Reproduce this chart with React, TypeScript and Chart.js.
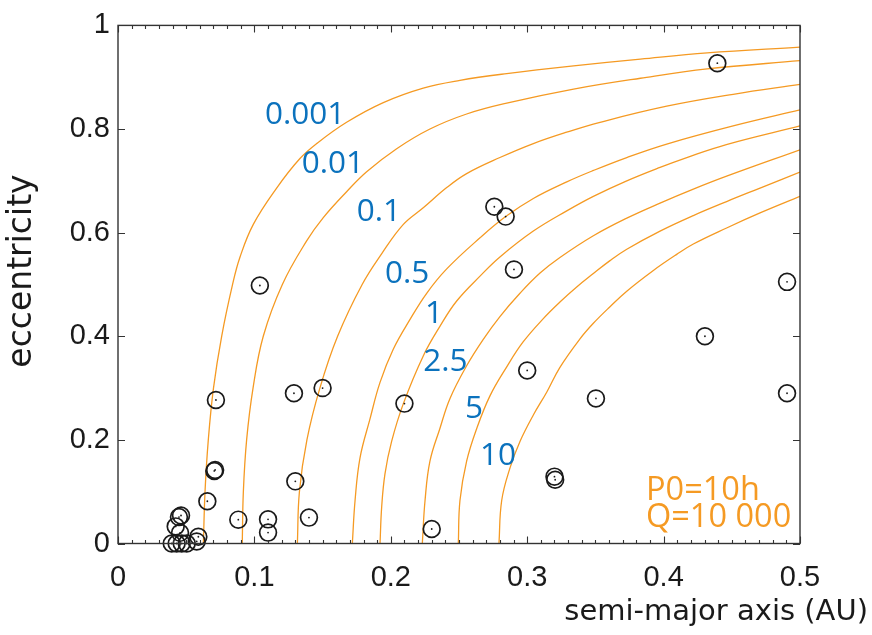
import { useEffect, useRef } from "react";
import { Chart, registerables } from "chart.js";

Chart.register(...registerables);

// ---- axis ranges / ticks ----
const X_MIN = 0;
const X_MAX = 0.5;
const Y_MIN = 0;
const Y_MAX = 1;
const X_STEP = 0.1;
const Y_STEP = 0.2;
const X_MINOR_STEP = 0.01;

// ---- planets: semi-major axis (AU) and eccentricity ----
const planetA = [
  0.0718, 0.129, 0.15, 0.21, 0.0706, 0.0712, 0.13, 0.0655, 0.0462, 0.0447,
  0.0423, 0.0455, 0.0394, 0.043, 0.0467, 0.0504, 0.0577, 0.0589, 0.0882, 0.11,
  0.11, 0.14, 0.23, 0.104, 0.4394, 0.2759, 0.2842, 0.2903, 0.4905, 0.4303,
  0.3, 0.3504, 0.4905, 0.32, 0.3205,
];
const planetE = [
  0.277, 0.29, 0.3, 0.27, 0.14, 0.142, 0.12, 0.0815, 0.054, 0.051,
  0.033, 0.0206, 0.0, 0.0, 0.0, 0.0, 0.004, 0.013, 0.046, 0.0466,
  0.021, 0.05, 0.028, 0.498, 0.927, 0.65, 0.631, 0.529, 0.505, 0.4,
  0.334, 0.28, 0.29, 0.129, 0.123,
];

// ---- iso-time curves (labels in Gyr) ----
const curveLabels = ["0.001", "0.01", "0.1", "0.5", "1", "2.5", "5", "10"];

const c0001A = [0.0626, 0.0638, 0.0662, 0.07, 0.076, 0.084, 0.0894, 0.0992, 0.1163, 0.1334, 0.1457, 0.1676, 0.1945, 0.2238, 0.2507, 0.285, 0.334, 0.383, 0.432, 0.5];
const c0001E = [0, 0.1, 0.2, 0.3, 0.4, 0.5, 0.5525, 0.616, 0.686, 0.743, 0.772, 0.813, 0.851, 0.879, 0.894, 0.907, 0.922, 0.935, 0.947, 0.958];

const c001A = [0.0911, 0.0919, 0.0943, 0.099, 0.1065, 0.1205, 0.1383, 0.1505, 0.1676, 0.1823, 0.2043, 0.2287, 0.2556, 0.285, 0.334, 0.383, 0.432, 0.5];
const c001E = [0, 0.1, 0.2, 0.3, 0.4, 0.5, 0.584, 0.629, 0.679, 0.7175, 0.762, 0.8, 0.829, 0.85, 0.877, 0.898, 0.916, 0.932];

const c01A = [0.1315, 0.133, 0.1385, 0.148, 0.161, 0.179, 0.1935, 0.2092, 0.2238, 0.241, 0.2556, 0.28, 0.3045, 0.329, 0.3534, 0.4023, 0.451, 0.5];
const c01E = [0, 0.1, 0.2, 0.3, 0.4, 0.5, 0.56, 0.616, 0.648, 0.687, 0.714, 0.745, 0.772, 0.794, 0.813, 0.844, 0.867, 0.886];

const c05A = [0.1718, 0.1738, 0.1774, 0.1848, 0.1921, 0.2018, 0.214, 0.2263, 0.241, 0.2654, 0.2842, 0.3045, 0.329, 0.3485, 0.373, 0.4023, 0.451, 0.5];
const c05E = [0, 0.083, 0.165, 0.241, 0.311, 0.375, 0.432, 0.483, 0.53, 0.59, 0.631, 0.666, 0.698, 0.72, 0.745, 0.771, 0.806, 0.837];

const c1A = [0.1921, 0.1933, 0.1957, 0.2006, 0.2092, 0.2238, 0.236, 0.2483, 0.2654, 0.28, 0.3045, 0.329, 0.3485, 0.373, 0.3974, 0.417, 0.446, 0.5];
const c1E = [0, 0.07, 0.134, 0.197, 0.27, 0.362, 0.419, 0.468, 0.516, 0.553, 0.603, 0.642, 0.67, 0.7, 0.726, 0.745, 0.77, 0.806];

const c25A = [0.2231, 0.2251, 0.2287, 0.236, 0.2434, 0.2556, 0.2678, 0.28, 0.2947, 0.3094, 0.324, 0.3485, 0.373, 0.3974, 0.4218, 0.4462, 0.5];
const c25E = [0, 0.083, 0.159, 0.222, 0.28, 0.343, 0.394, 0.438, 0.483, 0.522, 0.552, 0.594, 0.628, 0.657, 0.684, 0.709, 0.76];

const c5A = [0.2495, 0.2507, 0.2556, 0.263, 0.2727, 0.285, 0.297, 0.3118, 0.324, 0.3363, 0.3485, 0.3607, 0.373, 0.3974, 0.4218, 0.4462, 0.4707, 0.5];
const c5E = [0, 0.083, 0.159, 0.222, 0.285, 0.341, 0.389, 0.434, 0.466, 0.495, 0.521, 0.546, 0.568, 0.603, 0.633, 0.66, 0.686, 0.717];

const c10A = [0.2793, 0.2813, 0.2874, 0.2947, 0.3045, 0.3143, 0.324, 0.3387, 0.3485, 0.3607, 0.373, 0.3925, 0.4096, 0.4218, 0.4462, 0.4707, 0.5];
const c10E = [0, 0.083, 0.146, 0.197, 0.248, 0.292, 0.34, 0.395, 0.425, 0.457, 0.487, 0.527, 0.558, 0.578, 0.609, 0.638, 0.67];

const curveA = [c0001A, c001A, c01A, c05A, c1A, c25A, c5A, c10A];
const curveE = [c0001E, c001E, c01E, c05E, c1E, c25E, c5E, c10E];

// label anchors (data units: left edge, baseline)
const labelA = [0.1078, 0.1347, 0.175, 0.1957, 0.2251, 0.2238, 0.2544, 0.2654];
const labelE = [0.81, 0.7144, 0.622, 0.503, 0.4256, 0.3336, 0.2414, 0.1514];

const noteLines = ["P0=10h", "Q=10 000"];
const xTitle = "semi-major axis (AU)";
const yTitle = "eccentricity";

const ORANGE = "#F59A23";
const BLUE = "#0B72BD";
const INK = "#1a1a1a";

const fmt = (v: any) => String(+Number(v).toFixed(2));

const overlayPlugin = {
  id: "overlay",
  afterDatasetsDraw(chart: any) {
    const { ctx, chartArea: ca, scales } = chart;
    const x = scales.x;
    const y = scales.y;
    ctx.save();
    // frame
    ctx.strokeStyle = "#333";
    ctx.lineWidth = 1.4;
    ctx.strokeRect(ca.left, ca.top, ca.right - ca.left, ca.bottom - ca.top);
    // inward ticks on all four sides
    ctx.lineWidth = 1.1;
    const nx = Math.round((X_MAX - X_MIN) / X_MINOR_STEP);
    const perMajor = Math.round(X_STEP / X_MINOR_STEP);
    for (let i = 0; i <= nx; i++) {
      const px = Math.round(x.getPixelForValue(X_MIN + i * X_MINOR_STEP)) + 0.5;
      const len = i % perMajor === 0 ? 7 : 3.5;
      ctx.beginPath();
      ctx.moveTo(px, ca.bottom);
      ctx.lineTo(px, ca.bottom - len);
      ctx.moveTo(px, ca.top);
      ctx.lineTo(px, ca.top + len);
      ctx.stroke();
    }
    const ny = Math.round((Y_MAX - Y_MIN) / Y_STEP);
    for (let i = 0; i <= ny; i++) {
      const py = Math.round(y.getPixelForValue(Y_MIN + i * Y_STEP)) + 0.5;
      ctx.beginPath();
      ctx.moveTo(ca.left, py);
      ctx.lineTo(ca.left + 7, py);
      ctx.moveTo(ca.right, py);
      ctx.lineTo(ca.right - 7, py);
      ctx.stroke();
    }
    // curve labels
    ctx.fillStyle = BLUE;
    ctx.font = "31.5px 'Open Sans'";
    ctx.textAlign = "left";
    ctx.textBaseline = "alphabetic";
    curveLabels.forEach((t, i) => {
      ctx.fillText(t, x.getPixelForValue(labelA[i]), y.getPixelForValue(labelE[i]));
    });
    // note
    ctx.fillStyle = ORANGE;
    ctx.font = "32.5px 'Open Sans'";
    ctx.fillText(noteLines[0], 646, 500);
    ctx.fillText(noteLines[1], 646, 527);
    // axis titles
    ctx.fillStyle = INK;
    ctx.font = "29px 'DejaVu Sans'";
    ctx.textAlign = "right";
    ctx.fillText(xTitle, 868, 620);
    ctx.save();
    ctx.translate(31, 271);
    ctx.rotate(-Math.PI / 2);
    ctx.textAlign = "center";
    ctx.font = "33px 'DejaVu Sans'";
    ctx.fillText(yTitle, 0, 0);
    ctx.restore();
    ctx.restore();
  },
};

export default function App() {
  const ref = useRef<HTMLCanvasElement | null>(null);
  useEffect(() => {
    if (!ref.current) return;
    const curveSets = curveA.map((arr, i) => ({
      type: "line" as const,
      label: curveLabels[i],
      data: arr.map((a, j) => ({ x: a, y: curveE[i][j] })),
      borderColor: ORANGE,
      borderWidth: 1.3,
      pointRadius: 0,
      tension: 0.4,
      fill: false,
      order: 2,
    }));
    const pts = planetA.map((a, i) => ({ x: a, y: planetE[i] }));
    const chart = new Chart(ref.current, {
      type: "scatter",
      data: {
        datasets: [
          {
            label: "planets",
            data: pts,
            pointRadius: 8.4,
            pointBorderWidth: 1.7,
            pointBorderColor: INK,
            pointBackgroundColor: "rgba(0,0,0,0)",
            clip: false,
            order: 0,
          } as any,
          {
            label: "centers",
            data: pts,
            pointRadius: 0.9,
            pointBorderWidth: 0,
            pointBackgroundColor: INK,
            clip: false,
            order: 0,
          } as any,
          ...curveSets,
        ],
      },
      options: {
        animation: false,
        responsive: false,
        events: [],
        layout: { padding: { left: 8, top: 18, right: 72, bottom: 0 } },
        plugins: { legend: { display: false }, tooltip: { enabled: false } },
        scales: {
          x: {
            type: "linear",
            min: X_MIN,
            max: X_MAX,
            grid: { display: false, drawTicks: false },
            border: { display: false },
            ticks: {
              stepSize: X_STEP,
              autoSkip: false,
              maxRotation: 0,
              padding: 17,
              color: INK,
              callback: fmt,
              font: { family: "'Liberation Sans'", size: 29 },
            },
            afterFit: (s: any) => {
              s.height = 91.5;
            },
          },
          y: {
            type: "linear",
            min: Y_MIN,
            max: Y_MAX,
            grid: { display: false, drawTicks: false },
            border: { display: false },
            ticks: {
              stepSize: Y_STEP,
              autoSkip: false,
              padding: 8,
              color: INK,
              callback: fmt,
              font: { family: "'Liberation Sans'", size: 29 },
            },
            afterFit: (s: any) => {
              s.width = 110;
            },
          },
        },
      },
      plugins: [overlayPlugin],
    });
    return () => chart.destroy();
  }, []);
  return (
    <div style={{ position: "absolute", left: 0, top: 0, width: 872, height: 635, background: "#fff" }}>
      <canvas ref={ref} width={872} height={635} />
    </div>
  );
}
